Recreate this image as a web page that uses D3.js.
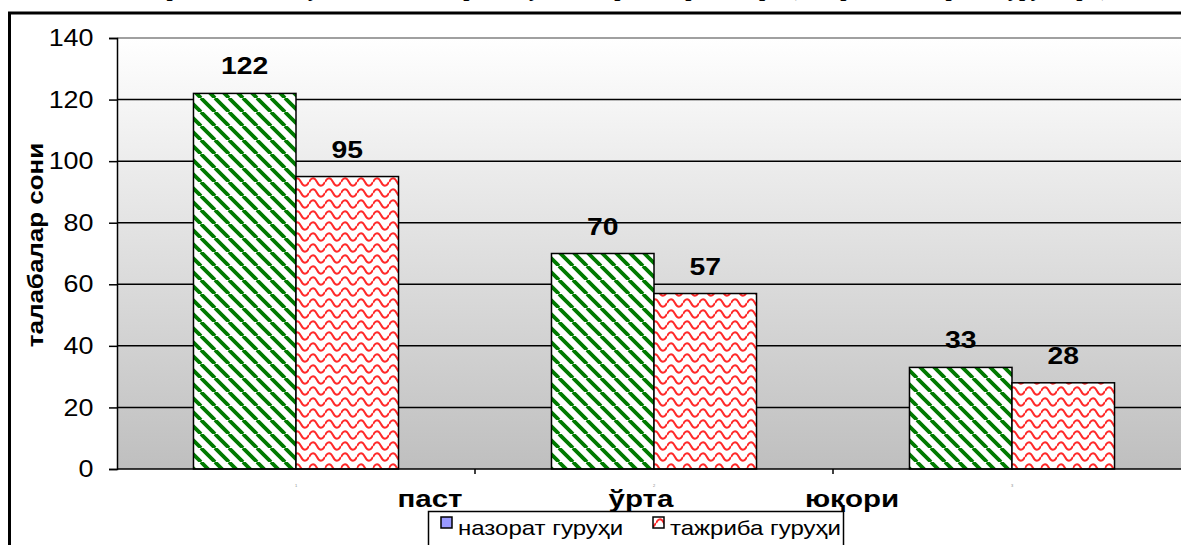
<!DOCTYPE html>
<html>
<head>
<meta charset="utf-8">
<script src="https://cdn.jsdelivr.net/npm/d3@7"></script>
<style>
  body { margin: 0; background: #fff; }
  svg { display: block; font-family: Arial, "Liberation Sans", sans-serif; }
</style>
</head>
<body>
<div class="chart"></div>
<script>
// chart data
var categories = ["паст", "ўрта", "юқори"];
var seriesNames = ["назорат гуруҳи", "тажриба гуруҳи"];
var control = [122, 70, 33];
var experiment = [95, 57, 28];
var yTicks = [0, 20, 40, 60, 80, 100, 120, 140];
var titleText = "Тажриба-синов якунида талабаларнинг ўзлаштириш даражалари (назорат ва тажриба гуруҳлари)";
var yTitle = "талабалар сони";

// the original image is a bit wider than tall, text looks stretched sideways
function stretch(x, y, sx) {
  return "translate(" + x + "," + y + ") scale(" + sx + ",1)";
}

function drawChart() {
  var w = 1181, h = 545;
  var svg = d3.select(".chart").append("svg").attr("width", w).attr("height", h);

  var defs = svg.append("defs");

  // background gradient for the plot area
  var grad = defs.append("linearGradient").attr("id", "bg")
    .attr("x1", 0).attr("y1", 0).attr("x2", 0).attr("y2", 1);
  grad.append("stop").attr("offset", "0%").attr("stop-color", "#ffffff");
  grad.append("stop").attr("offset", "100%").attr("stop-color", "#bfbfbf");

  // green diagonal stripes
  var pg = defs.append("pattern").attr("id", "green")
    .attr("patternUnits", "userSpaceOnUse").attr("width", 14).attr("height", 14);
  pg.append("rect").attr("width", 14).attr("height", 14).attr("fill", "#fff");
  pg.append("path").attr("d", "M-14,0 L0,14 M0,0 L14,14 M14,0 L28,14")
    .attr("stroke", "#007a00").attr("stroke-width", 3.8);

  // red wave pattern
  var pr = defs.append("pattern").attr("id", "red")
    .attr("patternUnits", "userSpaceOnUse").attr("width", 16).attr("height", 11);
  pr.append("rect").attr("width", 16).attr("height", 11).attr("fill", "#fff");
  pr.append("path").attr("d", "M0,6 C2.6,1 5.4,1 8,6 C10.6,11 13.4,11 16,6")
    .attr("fill", "none").attr("stroke", "#ff2a2a").attr("stroke-width", 2);

  // title, mostly cut off at the top
  svg.append("text")
    .attr("x", 617).attr("y", -4)
    .attr("text-anchor", "middle")
    .style("font-family", "'Liberation Serif', 'Times New Roman', serif")
    .style("font-weight", "bold").style("font-size", "22px")
    .text(titleText);

  // frame
  svg.append("rect").attr("x", 9.5).attr("y", 13).attr("width", 1200).attr("height", 600)
    .attr("fill", "none").attr("stroke", "#000").attr("stroke-width", 3);

  var pLeft = 117, pTop = 38, pBottom = 469, pRight = 117 + 3 * 358;

  var y = d3.scaleLinear().domain([0, 140]).range([pBottom, pTop]);
  var x0 = d3.scaleBand().domain(categories).range([pLeft, pRight]).padding(0);
  var x1 = d3.scaleBand().domain([0, 1]).range([0, x0.bandwidth()]).paddingInner(0).paddingOuter(0.746);

  svg.append("rect").attr("x", pLeft).attr("y", pTop).attr("width", pRight - pLeft).attr("height", pBottom - pTop)
    .attr("fill", "url(#bg)");

  // gridlines
  svg.selectAll(".grid").data(yTicks.slice(1)).enter().append("line")
    .attr("x1", pLeft).attr("x2", pRight)
    .attr("y1", function(d) { return y(d); }).attr("y2", function(d) { return y(d); })
    .attr("stroke", function(d) { return d == 140 ? "#808080" : "#000"; })
    .attr("stroke-width", 1.5);

  // y axis
  var yAxis = svg.append("g").attr("transform", "translate(" + pLeft + ",0)")
    .call(d3.axisLeft(y).tickValues(yTicks).tickSize(8).tickPadding(13));
  yAxis.select(".domain").attr("stroke", "#000").attr("stroke-width", 1.5);
  yAxis.selectAll(".tick line").attr("stroke", "#000").attr("stroke-width", 1.5);
  yAxis.selectAll(".tick text").style("font-size", "24px")
    .style("font-family", "Arial, 'Liberation Sans', sans-serif")
    .attr("fill", "#000").attr("transform", "scale(1.12,1)");

  // bars
  var rows = categories.map(function(c, i) { return { cat: c, vals: [control[i], experiment[i]] }; });
  var groups = svg.selectAll(".grp").data(rows).enter().append("g")
    .attr("transform", function(d) { return "translate(" + x0(d.cat) + ",0)"; });

  groups.selectAll("rect").data(function(d) { return d.vals; }).enter().append("rect")
    .attr("x", function(d, i) { return x1(i); })
    .attr("y", function(d) { return y(d); })
    .attr("width", x1.bandwidth())
    .attr("height", function(d) { return pBottom - y(d); })
    .attr("fill", function(d, i) { return i == 0 ? "url(#green)" : "url(#red)"; })
    .attr("stroke", "#000").attr("stroke-width", 1.5);

  groups.selectAll(".lbl").data(function(d) { return d.vals; }).enter().append("text")
    .attr("transform", function(d, i) { return stretch(x1(i) + x1.bandwidth() / 2, y(d) - 19, 1.18); })
    .attr("text-anchor", "middle")
    .style("font-weight", "bold").style("font-size", "24px")
    .text(function(d) { return d; });

  // x axis line + ticks at category boundaries
  svg.append("line").attr("x1", pLeft).attr("x2", pRight).attr("y1", pBottom).attr("y2", pBottom)
    .attr("stroke", "#000").attr("stroke-width", 1.5);
  svg.selectAll(".xt").data(categories.slice(1)).enter().append("line")
    .attr("x1", function(d) { return x0(d); }).attr("x2", function(d) { return x0(d); })
    .attr("y1", pBottom).attr("y2", pBottom + 5)
    .attr("stroke", "#000").attr("stroke-width", 1.5);

  // tiny marks under the categories
  svg.selectAll(".tiny").data(categories).enter().append("text")
    .attr("x", function(d) { return x0(d) + x0.bandwidth() / 2; })
    .attr("y", 487).attr("text-anchor", "middle")
    .style("font-size", "4px").attr("fill", "#888")
    .text(function(d, i) { return i + 1; });

  // category labels (shifted as in the original)
  var xl = d3.scalePoint().domain(categories).range([430, 852]);
  svg.selectAll(".cat").data(categories).enter().append("text")
    .attr("transform", function(d) { return stretch(xl(d), 507, 1.23); })
    .attr("text-anchor", "middle")
    .style("font-weight", "bold").style("font-size", "24px")
    .text(function(d) { return d; });

  // y axis title
  svg.append("text")
    .attr("transform", "translate(43,245) rotate(-90) scale(1.18,1)")
    .attr("text-anchor", "middle")
    .style("font-weight", "bold").style("font-size", "22px")
    .text(yTitle);

  // legend
  var lg = svg.append("g");
  lg.append("rect").attr("x", 428.5).attr("y", 511.5).attr("width", 415).attr("height", 40)
    .attr("fill", "#fff").attr("stroke", "#000").attr("stroke-width", 1.5);
  var lx = [441, 653];
  lg.selectAll(".sw").data(seriesNames).enter().append("rect")
    .attr("x", function(d, i) { return lx[i]; }).attr("y", 517)
    .attr("width", 11).attr("height", 11)
    .attr("fill", function(d, i) { return i == 0 ? "#9999ff" : "url(#red)"; })
    .attr("stroke", "#000").attr("stroke-width", 1.5);
  lg.selectAll(".lt").data(seriesNames).enter().append("text")
    .attr("transform", function(d, i) { return stretch(lx[i] + 17, 535, 1.2); })
    .style("font-size", "20px")
    .text(function(d) { return d; });
}

drawChart();
</script>
</body>
</html>
